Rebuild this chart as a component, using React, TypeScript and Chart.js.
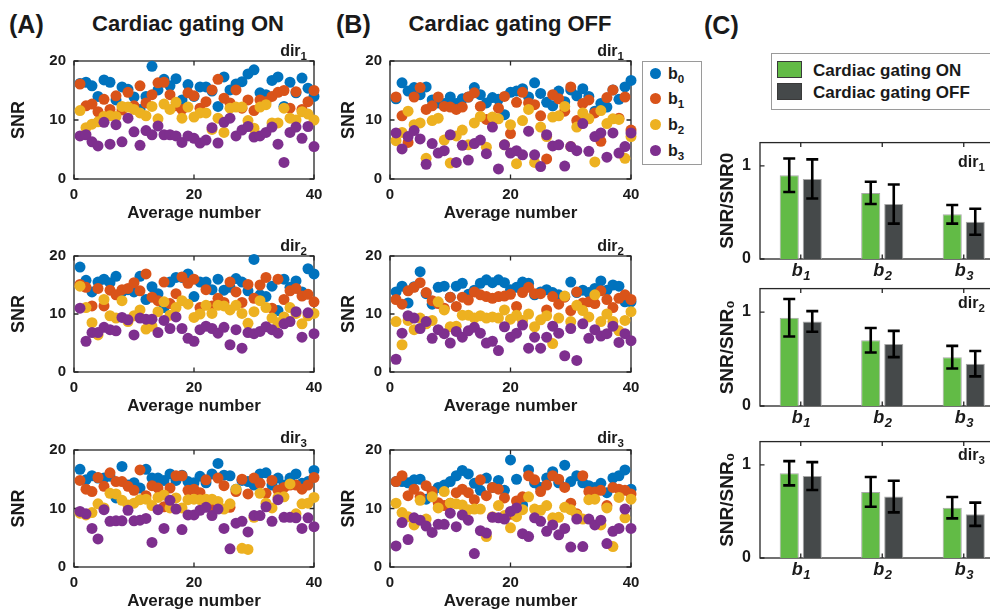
import React, { useEffect, useRef } from 'react';
import { Chart, registerables } from 'chart.js';
Chart.register(...registerables);

const FONT = "'Liberation Sans', Arial, Helvetica, sans-serif";
const INK = '#1a1a1a';

// ---------- data ----------
const AVERAGE_NUMBERS = [1,2,3,4,5,6,7,8,9,10,11,12,13,14,15,16,17,18,19,20,21,22,23,24,25,26,27,28,29,30,31,32,33,34,35,36,37,38,39,40];
const SERIES_LABELS = ['b0', 'b1', 'b2', 'b3'];
const X_TICKS = [0, 20, 40];
const Y_TICKS = [0, 10, 20];

// (A) Cardiac gating ON
const ON_DIR1_B0 = [16.2,16.4,15.8,14.0,16.8,16.4,13.4,15.6,15.2,13.9,11.8,14.0,19.1,15.1,16.9,15.8,17.0,13.4,16.0,14.0,15.6,15.6,14.9,12.3,17.3,15.1,16.1,16.5,17.8,18.5,14.6,14.3,16.7,17.3,12.3,16.4,14.6,17.1,15.4,14.0];
const ON_DIR1_B1 = [16.1,12.4,12.7,11.4,13.5,11.8,14.1,11.7,14.7,12.4,15.8,12.9,14.3,16.3,16.4,14.3,12.4,11.8,14.6,14.1,12.0,13.1,15.1,16.9,13.7,12.9,15.1,12.0,13.4,11.6,13.4,13.1,14.0,14.7,15.0,12.0,14.8,11.8,13.1,15.0];
const ON_DIR1_B2 = [11.6,8.7,9.3,9.7,10.6,10.7,10.6,12.3,12.2,11.8,11.2,10.7,12.3,10.2,12.7,11.8,13.0,10.3,12.2,10.5,11.2,11.2,8.4,10.3,7.9,12.0,12.2,12.2,9.9,8.6,12.2,12.6,9.5,9.5,12.0,10.3,10.0,11.4,11.0,10.0];
const ON_DIR1_B3 = [7.3,7.5,6.3,5.6,9.6,5.9,9.2,6.3,10.3,8.0,5.7,8.2,7.5,9.0,7.5,7.5,7.3,6.2,7.3,6.9,6.1,6.6,8.7,6.1,9.6,10.3,7.3,8.3,8.9,7.1,7.3,7.9,8.8,5.9,2.8,7.9,8.8,6.9,8.9,5.5];

const ON_DIR2_B0 = [18.1,15.8,13.8,15.5,16.0,15.4,16.5,13.8,14.2,13.8,16.5,12.5,14.7,13.5,11.1,15.5,16.3,16.3,16.9,13.0,15.5,15.5,14.2,16.0,14.1,14.6,16.1,15.5,14.0,19.4,13.3,13.0,14.8,10.6,16.0,14.6,15.7,13.8,17.8,16.9];
const ON_DIR2_B1 = [15.1,14.6,11.4,14.4,11.4,14.1,13.3,14.2,14.4,15.4,14.0,16.9,12.9,12.3,15.5,11.8,13.5,16.4,15.3,16.0,11.1,14.2,11.4,12.7,12.0,15.5,13.8,12.0,15.1,12.7,15.0,16.3,11.0,16.0,12.5,14.0,14.4,13.1,13.4,12.1];
const ON_DIR2_B2 = [14.8,11.1,8.5,6.4,12.5,9.7,9.3,12.3,8.7,9.7,10.7,7.4,7.9,10.4,12.1,9.8,11.1,12.3,11.7,9.4,10.0,11.5,10.1,11.5,11.4,10.7,11.5,10.1,8.4,10.4,12.3,11.1,9.3,8.5,9.5,11.1,10.1,8.3,9.7,10.1];
const ON_DIR2_B3 = [11.0,5.3,6.8,6.8,7.7,7.3,7.1,9.4,9.0,6.4,9.3,9.1,9.1,6.8,8.9,7.5,9.5,7.5,5.8,5.3,7.3,7.9,7.5,6.7,7.7,4.7,7.3,4.1,6.8,6.6,7.0,7.8,7.3,6.7,8.3,8.7,10.4,6.0,10.2,6.6];

const ON_DIR3_B0 = [16.7,14.9,15.6,15.2,15.2,15.5,11.8,17.2,14.0,14.4,13.5,16.7,15.2,15.2,14.8,15.9,14.8,15.7,14.6,14.4,15.5,14.4,15.9,17.7,15.7,15.6,13.3,14.8,14.6,14.0,15.9,16.1,14.0,15.2,14.0,15.2,15.9,14.3,14.6,16.5];
const ON_DIR3_B1 = [14.8,13.3,12.9,15.3,13.8,16.1,14.6,14.6,13.8,13.1,16.6,12.2,13.9,13.5,10.3,13.5,15.6,15.6,13.1,13.3,12.7,14.9,9.9,15.2,13.9,10.2,12.9,15.0,12.5,15.2,14.3,12.6,14.8,13.1,13.6,14.0,14.0,13.3,14.0,15.3];
const ON_DIR3_B2 = [9.2,8.9,9.3,10.8,10.1,12.6,12.5,11.4,10.6,10.9,11.5,11.6,10.5,11.9,12.3,10.1,11.8,10.1,11.5,11.6,11.5,11.6,11.6,11.2,9.9,10.8,13.3,3.2,3.0,8.5,12.6,10.9,10.1,11.9,12.0,14.2,9.1,10.8,10.9,11.9];
const ON_DIR3_B3 = [9.5,9.1,6.6,4.8,9.8,7.8,7.9,7.9,9.7,7.9,8.0,8.3,4.2,9.8,6.6,11.4,9.9,6.4,8.9,8.9,9.7,10.2,8.8,9.9,6.6,3.1,7.5,7.8,6.0,8.8,8.8,10.3,7.8,11.5,8.5,8.5,8.4,6.6,8.4,6.9];

// (B) Cardiac gating OFF
const OFF_DIR1_B0 = [13.6,16.3,14.9,15.5,14.3,15.6,13.4,12.9,12.8,13.9,12.8,13.6,13.9,15.5,14.3,12.9,13.8,13.5,10.9,14.7,14.9,15.3,13.9,16.3,14.5,13.0,12.4,14.9,13.1,15.1,14.1,15.3,14.0,11.5,12.8,12.2,15.1,13.5,15.6,16.7];
const OFF_DIR1_B1 = [13.9,10.7,6.2,13.9,15.5,11.8,12.4,13.9,12.3,12.2,11.8,12.2,13.9,14.6,12.3,10.1,9.9,12.0,14.0,7.7,13.0,14.7,12.9,12.6,10.7,3.4,14.3,13.6,11.5,15.6,9.9,12.8,13.4,11.2,6.4,13.8,15.1,10.3,13.9,8.3];
const OFF_DIR1_B2 = [6.5,7.9,11.5,9.2,9.5,3.5,9.9,10.3,6.6,2.7,7.3,8.3,5.8,9.5,10.6,5.4,10.5,10.2,5.8,9.2,2.6,9.9,11.8,2.8,8.8,7.2,10.5,10.7,12.3,5.5,8.8,11.2,10.2,2.9,11.6,9.4,10.2,10.1,3.5,7.2];
const OFF_DIR1_B3 = [7.8,5.1,7.2,8.2,6.8,2.5,6.0,4.4,4.8,7.5,2.8,5.7,3.2,6.0,6.6,4.3,8.8,1.7,5.8,4.4,4.8,4.1,8.1,4.1,2.1,7.5,5.6,5.8,2.2,5.5,4.8,9.4,4.7,7.2,7.8,3.7,7.8,4.4,5.5,7.8];

const OFF_DIR2_B0 = [13.8,14.8,11.9,14.7,17.3,13.5,11.7,14.6,14.8,12.9,14.8,15.3,13.4,14.1,15.3,15.9,15.4,15.9,15.4,14.2,14.6,15.5,15.3,13.3,13.8,14.2,13.7,13.3,13.0,15.5,13.7,14.1,13.7,14.4,15.7,14.1,15.0,14.8,12.1,12.1];
const OFF_DIR2_B1 = [12.5,11.7,14.0,14.6,15.4,13.7,12.3,11.8,11.0,12.9,11.3,12.9,12.4,13.8,13.3,13.0,12.7,13.0,13.1,13.4,11.3,13.7,14.6,13.5,13.5,10.7,13.0,11.7,12.9,10.6,13.8,11.9,12.1,11.8,14.0,12.5,11.1,12.7,13.3,12.5];
const OFF_DIR2_B2 = [8.7,4.7,8.9,7.3,9.3,8.3,8.9,12.1,10.7,7.8,7.9,9.8,9.8,9.3,9.7,9.3,9.5,9.3,10.7,9.1,9.8,8.9,10.0,7.8,9.0,9.7,4.9,9.3,13.1,8.7,11.5,10.6,9.5,13.3,8.7,10.0,8.7,7.1,8.9,10.4];
const OFF_DIR2_B3 = [2.2,6.7,9.7,9.3,7.5,8.7,5.8,7.3,6.6,5.0,7.0,6.0,7.1,7.7,6.7,5.0,5.3,3.7,7.8,6.0,6.7,8.1,4.1,6.0,4.1,6.0,7.9,6.7,2.8,7.5,2.0,8.3,5.8,7.3,6.2,6.6,7.9,5.1,6.6,5.4];

const OFF_DIR3_B0 = [14.6,14.6,14.4,14.9,15.0,11.6,12.5,13.6,14.0,14.6,15.6,16.5,15.9,14.3,13.1,15.2,13.6,14.8,13.1,18.3,15.0,10.6,16.6,14.4,13.6,15.2,16.3,14.4,17.4,14.6,15.6,14.4,13.9,13.6,14.3,12.7,15.2,15.6,16.6,13.3];
const OFF_DIR3_B1 = [14.6,15.6,12.2,13.3,12.0,13.9,12.9,11.0,10.5,10.9,12.7,13.3,12.7,11.5,14.9,12.2,13.6,13.3,11.8,9.0,11.3,12.0,15.6,14.9,12.9,14.0,15.6,15.0,13.6,10.9,9.1,15.6,12.9,12.8,13.1,10.5,13.6,13.3,13.1,12.5];
const OFF_DIR3_B2 = [10.9,9.3,8.6,7.2,11.4,8.2,12.0,10.1,12.9,10.9,10.8,10.6,9.8,9.9,9.9,5.2,8.6,10.5,8.8,6.7,8.6,9.8,12.0,9.9,9.7,10.5,8.4,8.5,10.2,9.8,8.9,8.2,11.5,11.6,7.2,10.1,3.5,11.9,8.4,11.6];
const OFF_DIR3_B3 = [3.6,7.6,4.7,8.4,8.0,7.0,5.9,7.3,7.3,9.2,6.9,8.9,8.0,2.3,6.2,5.8,8.5,8.4,8.2,9.5,10.1,5.7,5.2,8.4,7.8,6.1,7.2,5.5,6.6,3.4,8.2,3.5,8.2,7.2,8.0,4.0,6.1,6.6,9.9,6.6];

// (C) SNR/SNR0 bars
const BAR_CATEGORIES = ['b1', 'b2', 'b3'];
const BAR_Y_TICKS = [0, 1];
const BAR_ON_DIR1 = [0.90, 0.71, 0.48];
const BAR_ON_DIR1_ERR = [0.18, 0.12, 0.10];
const BAR_OFF_DIR1 = [0.86, 0.59, 0.40];
const BAR_OFF_DIR1_ERR = [0.21, 0.21, 0.14];
const BAR_ON_DIR2 = [0.94, 0.70, 0.52];
const BAR_ON_DIR2_ERR = [0.20, 0.13, 0.12];
const BAR_OFF_DIR2 = [0.90, 0.66, 0.45];
const BAR_OFF_DIR2_ERR = [0.11, 0.14, 0.135];
const BAR_ON_DIR3 = [0.91, 0.71, 0.54];
const BAR_ON_DIR3_ERR = [0.13, 0.16, 0.115];
const BAR_OFF_DIR3 = [0.88, 0.66, 0.47];
const BAR_OFF_DIR3_ERR = [0.15, 0.17, 0.125];

// ---------- styles ----------
const SERIES_COLORS = ['#0072BD', '#D95319', '#EDB120', '#7E2F8E'];
const GREEN = '#62BB46';
const DARK = '#45494A';

// ---------- plugins ----------
const boxPlugin = {
  id: 'matlabBox',
  beforeDatasetsDraw(chart: any) {
    const { ctx, chartArea: a } = chart;
    const xs = chart.scales.x;
    const ys = chart.scales.y;
    ctx.save();
    ctx.strokeStyle = '#262626';
    ctx.lineWidth = 1.3;
    ctx.strokeRect(a.left, a.top, a.right - a.left, a.bottom - a.top);
    ctx.beginPath();
    const L = 4.5;
    xs.ticks.forEach((_t: any, i: number) => {
      const p = xs.getPixelForTick(i);
      ctx.moveTo(p, a.bottom); ctx.lineTo(p, a.bottom - L);
      ctx.moveTo(p, a.top); ctx.lineTo(p, a.top + L);
    });
    ys.ticks.forEach((_t: any, i: number) => {
      const p = ys.getPixelForTick(i);
      ctx.moveTo(a.left, p); ctx.lineTo(a.left + L, p);
      ctx.moveTo(a.right, p); ctx.lineTo(a.right - L, p);
    });
    ctx.stroke();
    ctx.restore();
  },
};

const errorBarPlugin = {
  id: 'errorBars',
  afterDatasetsDraw(chart: any) {
    const { ctx } = chart;
    const ys = chart.scales.y;
    chart.data.datasets.forEach((ds: any, di: number) => {
      if (!ds.errors) return;
      const meta = chart.getDatasetMeta(di);
      meta.data.forEach((bar: any, i: number) => {
        const v = ds.data[i];
        const e = ds.errors[i];
        const yt = ys.getPixelForValue(v + e);
        const yb = ys.getPixelForValue(v - e);
        ctx.save();
        ctx.strokeStyle = '#000';
        ctx.lineWidth = 2.6;
        ctx.beginPath();
        ctx.moveTo(bar.x, yt); ctx.lineTo(bar.x, yb);
        ctx.moveTo(bar.x - 6, yt); ctx.lineTo(bar.x + 6, yt);
        ctx.moveTo(bar.x - 6, yb); ctx.lineTo(bar.x + 6, yb);
        ctx.stroke();
        ctx.restore();
      });
    });
  },
};

// category labels such as "b1" drawn as italic b with a subscript digit
const subscriptLabelPlugin = {
  id: 'subscriptLabels',
  afterDraw(chart: any) {
    const { ctx, chartArea: a } = chart;
    const xs = chart.scales.x;
    const labels: string[] = chart.data.labels;
    ctx.save();
    ctx.fillStyle = INK;
    ctx.textBaseline = 'alphabetic';
    ctx.textAlign = 'left';
    labels.forEach((lab, i) => {
      const base = lab.slice(0, 1);
      const sub = lab.slice(1);
      const x = xs.getPixelForTick(i);
      ctx.font = `italic bold 18px ${FONT}`;
      const wb = ctx.measureText(base).width;
      ctx.font = `italic bold 13px ${FONT}`;
      const ws = ctx.measureText(sub).width;
      const x0 = x - (wb + ws) / 2;
      const yb = a.bottom + 17;
      ctx.font = `italic bold 18px ${FONT}`;
      ctx.fillText(base, x0, yb);
      ctx.font = `italic bold 13px ${FONT}`;
      ctx.fillText(sub, x0 + wb + 0.5, yb + 4);
    });
    ctx.restore();
  },
};

// ---------- configs ----------
function scatterConfig(series: number[][], yAxisW: number, padRight: number) {
  return {
    type: 'scatter',
    data: {
      datasets: series.map((vals, k) => ({
        label: SERIES_LABELS[k],
        data: vals.map((v, i) => ({ x: AVERAGE_NUMBERS[i], y: v })),
        backgroundColor: SERIES_COLORS[k],
        borderColor: SERIES_COLORS[k],
        pointRadius: 5.5,
        pointHoverRadius: 5.5,
        pointBorderWidth: 0,
        order: 3 - k,
        clip: false,
      })),
    },
    options: {
      responsive: false,
      animation: false,
      events: [],
      layout: { padding: { top: 0, right: padRight, left: 0, bottom: 0 } },
      plugins: { legend: { display: false }, tooltip: { enabled: false } },
      scales: {
        x: {
          type: 'linear', min: 0, max: 40,
          afterBuildTicks: (s: any) => { s.ticks = X_TICKS.map((v) => ({ value: v })); },
          ticks: { padding: 7, color: INK, font: { family: FONT, size: 15, weight: 'bold' } },
          grid: { display: false, drawTicks: false },
          border: { display: false },
          title: { display: true, text: 'Average number', color: INK, font: { family: FONT, size: 17, weight: 'bold' }, padding: { top: 0, bottom: 1 } },
          afterFit: (s: any) => { s.height = 46; },
        },
        y: {
          type: 'linear', min: 0, max: 20,
          afterBuildTicks: (s: any) => { s.ticks = Y_TICKS.map((v) => ({ value: v })); },
          ticks: { padding: 8, color: INK, font: { family: FONT, size: 15, weight: 'bold' } },
          grid: { display: false, drawTicks: false },
          border: { display: false },
          title: { display: true, text: 'SNR', color: INK, font: { family: FONT, size: 18, weight: 'bold' }, padding: { top: 8, bottom: 0 } },
          afterFit: (s: any) => { s.width = yAxisW; },
        },
      },
    },
    plugins: [boxPlugin],
  };
}

function barConfig(on: number[], onErr: number[], off: number[], offErr: number[], yTitle: string) {
  return {
    type: 'bar',
    data: {
      labels: BAR_CATEGORIES,
      datasets: [
        { label: 'Cardiac gating ON', data: on, errors: onErr, backgroundColor: GREEN, borderColor: '#a8a8a8', borderWidth: 1, categoryPercentage: 0.565, barPercentage: 0.83 },
        { label: 'Cardiac gating OFF', data: off, errors: offErr, backgroundColor: DARK, borderColor: '#a8a8a8', borderWidth: 1, categoryPercentage: 0.565, barPercentage: 0.83 },
      ],
    },
    options: {
      responsive: false,
      animation: false,
      events: [],
      layout: { padding: { top: 0, right: 7.5, left: 0, bottom: 0 } },
      plugins: { legend: { display: false }, tooltip: { enabled: false } },
      scales: {
        x: {
          type: 'category',
          ticks: { display: false },
          grid: { display: false, drawTicks: false },
          border: { display: false },
          afterFit: (s: any) => { s.height = 28; },
        },
        y: {
          type: 'linear', min: 0, max: 1.25,
          afterBuildTicks: (s: any) => { s.ticks = BAR_Y_TICKS.map((v) => ({ value: v })); },
          ticks: { padding: 9, color: INK, font: { family: FONT, size: 16, weight: 'bold' } },
          grid: { display: false, drawTicks: false },
          border: { display: false },
          title: { display: true, text: yTitle, color: INK, font: { family: FONT, size: 19, weight: 'bold' }, padding: { top: 4, bottom: 0 } },
          afterFit: (s: any) => { s.width = 48; },
        },
      },
    },
    plugins: [boxPlugin, errorBarPlugin, subscriptLabelPlugin],
  };
}

// ---------- components ----------
function ChartBox({ left, top, width, height, make }: any) {
  const ref = useRef<HTMLCanvasElement>(null);
  useEffect(() => {
    const c = new Chart(ref.current as HTMLCanvasElement, make());
    return () => c.destroy();
  }, []);
  return <canvas ref={ref} width={width} height={height} style={{ position: 'absolute', left, top, width, height }} />;
}

function Txt({ x, y, size, anchor = 'left', children, style }: any) {
  const tx = anchor === 'center' ? '-50%' : anchor === 'right' ? '-100%' : '0';
  return (
    <div style={{ position: 'absolute', left: x, top: y, transform: `translate(${tx}, -50%)`, fontFamily: FONT, fontWeight: 'bold', fontSize: size, lineHeight: 1, whiteSpace: 'nowrap', color: INK, ...style }}>
      {children}
    </div>
  );
}

const Sub = ({ children }: any) => (
  <span style={{ fontSize: '0.72em', position: 'relative', top: '0.32em' }}>{children}</span>
);

// plot top = canvas top + 17 (tick label half height + padding); bottom = canvas bottom - 46
const SCATTER_PANELS = [
  { id: 'A1', series: [ON_DIR1_B0, ON_DIR1_B1, ON_DIR1_B2, ON_DIR1_B3], left: 0, width: 330, yW: 74, padR: 16, top: 44, height: 181, dir: '1', dirX: 307, dirY: 51 },
  { id: 'B1', series: [OFF_DIR1_B0, OFF_DIR1_B1, OFF_DIR1_B2, OFF_DIR1_B3], left: 330, width: 320, yW: 60, padR: 19, top: 44, height: 181, dir: '1', dirX: 624, dirY: 51 },
  { id: 'A2', series: [ON_DIR2_B0, ON_DIR2_B1, ON_DIR2_B2, ON_DIR2_B3], left: 0, width: 330, yW: 74, padR: 16, top: 239, height: 179, dir: '2', dirX: 307, dirY: 246 },
  { id: 'B2', series: [OFF_DIR2_B0, OFF_DIR2_B1, OFF_DIR2_B2, OFF_DIR2_B3], left: 330, width: 320, yW: 60, padR: 19, top: 239, height: 179, dir: '2', dirX: 624, dirY: 246 },
  { id: 'A3', series: [ON_DIR3_B0, ON_DIR3_B1, ON_DIR3_B2, ON_DIR3_B3], left: 0, width: 330, yW: 74, padR: 16, top: 433, height: 180, dir: '3', dirX: 307, dirY: 438 },
  { id: 'B3', series: [OFF_DIR3_B0, OFF_DIR3_B1, OFF_DIR3_B2, OFF_DIR3_B3], left: 330, width: 320, yW: 60, padR: 19, top: 433, height: 180, dir: '3', dirX: 624, dirY: 438 },
];

// plot top = canvas top + ~18.6; bottom = canvas bottom - 28
const BAR_PANELS = [
  { id: 'C1', on: BAR_ON_DIR1, onErr: BAR_ON_DIR1_ERR, off: BAR_OFF_DIR1, offErr: BAR_OFF_DIR1_ERR, title: 'SNR/SNR0', top: 124, height: 163, dir: '1', dirY: 162 },
  { id: 'C2', on: BAR_ON_DIR2, onErr: BAR_ON_DIR2_ERR, off: BAR_OFF_DIR2, offErr: BAR_OFF_DIR2_ERR, title: 'SNR/SNR\u2080', top: 270, height: 164, dir: '2', dirY: 303 },
  { id: 'C3', on: BAR_ON_DIR3, onErr: BAR_ON_DIR3_ERR, off: BAR_OFF_DIR3, offErr: BAR_OFF_DIR3_ERR, title: 'SNR/SNR\u2080', top: 423, height: 163, dir: '3', dirY: 455 },
];

const SCATTER_LEGEND_ROWS = [73, 98, 124, 150];

export default function App() {
  return (
    <div style={{ position: 'absolute', left: 0, top: 0, width: 990, height: 613, overflow: 'hidden', background: '#fff' }}>
      {SCATTER_PANELS.map((p) => (
        <ChartBox key={p.id} left={p.left} top={p.top} width={p.width} height={p.height} make={() => scatterConfig(p.series, p.yW, p.padR)} />
      ))}
      {BAR_PANELS.map((p) => (
        <ChartBox key={p.id} left={712} top={p.top} width={300} height={p.height} make={() => barConfig(p.on, p.onErr, p.off, p.offErr, p.title)} />
      ))}

      <Txt x={9} y={24} size={25}>(A)</Txt>
      <Txt x={188} y={24} size={22} anchor="center">Cardiac gating ON</Txt>
      <Txt x={336} y={24} size={25}>(B)</Txt>
      <Txt x={510} y={24} size={22} anchor="center">Cardiac gating OFF</Txt>
      <Txt x={704} y={25} size={25}>(C)</Txt>

      {SCATTER_PANELS.map((p) => (
        <Txt key={'d' + p.id} x={p.dirX} y={p.dirY} size={16} anchor="right">dir<Sub>{p.dir}</Sub></Txt>
      ))}
      {BAR_PANELS.map((p) => (
        <Txt key={'d' + p.id} x={958} y={p.dirY} size={16}>dir<Sub>{p.dir}</Sub></Txt>
      ))}

      {/* scatter legend */}
      <div style={{ position: 'absolute', left: 642, top: 61, width: 58, height: 102, border: '1px solid #9a9a9a', background: '#fff' }} />
      {SERIES_LABELS.map((lab, k) => (
        <React.Fragment key={lab}>
          <div style={{ position: 'absolute', left: 649.5, top: SCATTER_LEGEND_ROWS[k] - 5.5, width: 11, height: 11, borderRadius: '50%', background: SERIES_COLORS[k] }} />
          <Txt x={668} y={SCATTER_LEGEND_ROWS[k] + 1} size={16}>b<Sub>{lab.slice(1)}</Sub></Txt>
        </React.Fragment>
      ))}

      {/* bar legend */}
      <div style={{ position: 'absolute', left: 771, top: 53, width: 240, height: 55, border: '1px solid #9a9a9a', background: '#fff' }} />
      <div style={{ position: 'absolute', left: 777, top: 61, width: 23, height: 15, background: GREEN, border: '1px solid #3a3a3a' }} />
      <div style={{ position: 'absolute', left: 777, top: 83, width: 23, height: 15, background: DARK, border: '1px solid #3a3a3a' }} />
      <Txt x={813} y={70} size={17}>Cardiac gating ON</Txt>
      <Txt x={813} y={92} size={17}>Cardiac gating OFF</Txt>
    </div>
  );
}
